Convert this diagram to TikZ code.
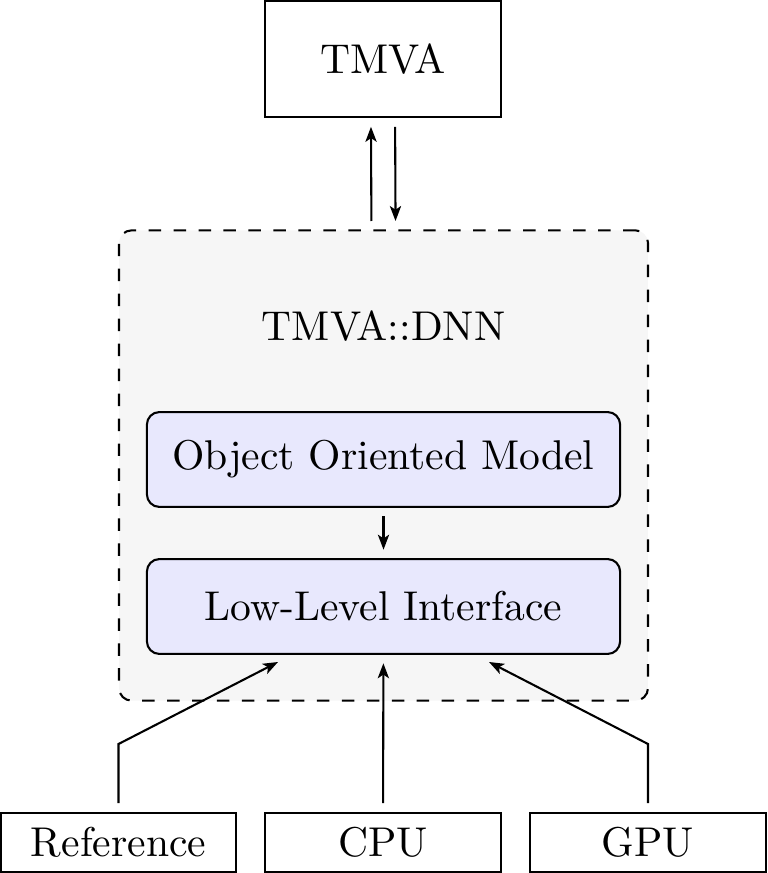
\documentclass[tikz,border=0pt]{standalone}
\usetikzlibrary{arrows.meta}
\definecolor{innerfill}{RGB}{232,232,253}
\definecolor{outerfill}{RGB}{246,246,246}
\begin{document}
\begin{tikzpicture}[x=0.2403pt,y=-0.2403pt, line width=0.5pt,
  plainbox/.style={draw, inner sep=0pt, minimum width=56.6pt},
  innerbox/.style={draw, fill=innerfill, rounded corners=3pt, inner sep=0pt,
    minimum width=113.7pt, minimum height=22.8pt},
  groupbox/.style={draw, dashed, fill=outerfill, rounded corners=3pt, inner sep=0pt,
    minimum width=127.1pt, minimum height=113pt},
  arr/.style={-{Stealth[length=3.6pt,width=2.7pt,inset=0.9pt]}},
  gap/.style={shorten <=2pt, shorten >=2pt}]
\useasboundingbox (0,0) rectangle (767,873);
% nodes
\node[plainbox, minimum height=28.1pt] (tmva) at (383,59) {TMVA};
\node[groupbox] (dnn) at (383.5,465.5) {};
\node (dnnlabel) at (383.5,326) {TMVA::DNN};
\node[innerbox] (oom) at (383.5,459.5) {Object Oriented Model};
\node[innerbox] (lli) at (383.5,606.5) {Low-Level Interface};
\node[plainbox, minimum height=14.3pt] (ref) at (118.5,842.3) {Reference};
\node[plainbox, minimum height=14.3pt] (cpu) at (383,842.3) {CPU};
\node[plainbox, minimum height=14.3pt] (gpu) at (648,842.3) {GPU};
\coordinate (refin) at (278,662);
\coordinate (gpuin) at (489,662);
% connectors
\draw[arr, gap] ([xshift=-2.9pt]dnn.north) -- ([xshift=-2.9pt]tmva.south);
\draw[arr, gap] ([xshift=2.9pt]tmva.south) -- ([xshift=2.9pt]dnn.north);
\draw[arr, gap] (oom) -- (lli);
\draw[arr, gap] (cpu) -- (lli);
\draw[arr, shorten <=2pt] (ref.north) -- ++(0,-67.5) -- (refin);
\draw[arr, shorten <=2pt] (gpu.north) -- ++(0,-67.5) -- (gpuin);
\end{tikzpicture}
\end{document}
